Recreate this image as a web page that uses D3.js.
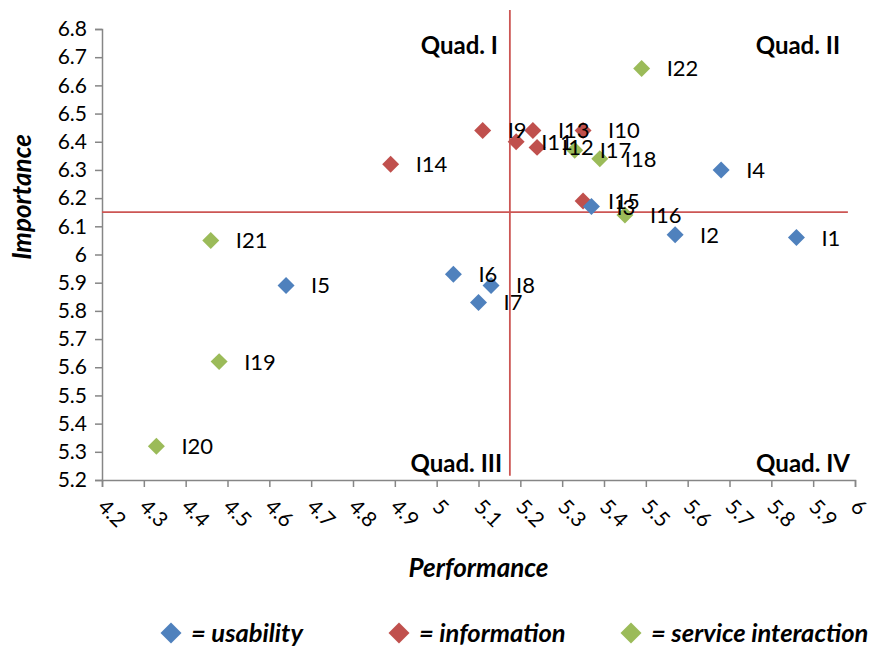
<!DOCTYPE html>
<html>

<head>
    <meta charset="utf-8">
    <style type="text/css">
        body {
            margin: 0;
            background: white;
        }

        svg text {
            font-family: Lato, "Open Sans", sans-serif;
            fill: #000;
        }
    </style>
    <title>Importance-performance chart</title>
</head>

<body>
    <div id="cont"></div>
    <script src="https://cdn.jsdelivr.net/npm/d3@7"></script>
    <script>

        // items: performance (x), importance (y)
        var usability = [
            { id: "I1", p: 5.86, i: 6.06 },
            { id: "I2", p: 5.57, i: 6.07 },
            { id: "I3", p: 5.37, i: 6.17 },
            { id: "I4", p: 5.68, i: 6.30 },
            { id: "I5", p: 4.64, i: 5.89 },
            { id: "I6", p: 5.04, i: 5.93 },
            { id: "I7", p: 5.10, i: 5.83 },
            { id: "I8", p: 5.13, i: 5.89 }
        ];

        var information = [
            { id: "I9", p: 5.11, i: 6.44 },
            { id: "I10", p: 5.35, i: 6.44 },
            { id: "I11", p: 5.19, i: 6.40 },
            { id: "I12", p: 5.24, i: 6.38 },
            { id: "I13", p: 5.23, i: 6.44 },
            { id: "I14", p: 4.89, i: 6.32 },
            { id: "I15", p: 5.35, i: 6.19 }
        ];

        var service = [
            { id: "I16", p: 5.45, i: 6.14 },
            { id: "I17", p: 5.33, i: 6.37 },
            { id: "I18", p: 5.39, i: 6.34 },
            { id: "I19", p: 4.48, i: 5.62 },
            { id: "I20", p: 4.33, i: 5.32 },
            { id: "I21", p: 4.46, i: 6.05 },
            { id: "I22", p: 5.49, i: 6.66 }
        ];

        var xTicks = d3.range(42, 61).map(function (d) { return d / 10; });
        var yTicks = d3.range(52, 69).map(function (d) { return d / 10; });

        // quadrant split lines (performance / importance means)
        var splitPerf = 5.175;
        var splitImp = 6.15;
        var splitPerfSpan = [5.215, 6.867];
        var splitImpSpan = [4.2, 5.983];

        var quadNames = ["Quad. I", "Quad. II", "Quad. III", "Quad. IV"];
        var legendNames = ["= usability", "= information", "= service interaction"];

        var colors = {
            usability: "#4F81BD",
            information: "#C0504D",
            service: "#9BBB59"
        };

        var width = 870,
            height = 648;

        var svg = d3.select("#cont")
            .append("svg")
            .attr("width", width)
            .attr("height", height);

        var x = d3.scaleLinear().domain([4.2, 6]).range([102, 855]);
        var y = d3.scaleLinear().domain([5.2, 6.8]).range([480, 29]);

        //y axis
        var yAxis = svg.append("g")
            .attr("transform", "translate(" + x(4.2) + ",0)")
            .call(d3.axisLeft(y).tickValues(yTicks).tickSize(7).tickPadding(8)
                .tickFormat(d3.format("")));
        yAxis.selectAll("text").style("font-size", "21px");

        //x axis
        var xAxis = svg.append("g")
            .attr("transform", "translate(0," + y(5.2) + ")")
            .call(d3.axisBottom(x).tickValues(xTicks).tickSize(7)
                .tickFormat(d3.format("")));
        xAxis.selectAll("text")
            .style("font-size", "21px")
            .attr("text-anchor", "start")
            .attr("dy", null)
            .attr("y", 0)
            .attr("transform", "translate(-6,28) rotate(45)");

        svg.selectAll(".domain, .tick line")
            .attr("stroke", "#868686")
            .attr("stroke-width", 1.5);

        //quadrant lines
        svg.append("line")
            .attr("x1", x(splitPerf)).attr("x2", x(splitPerf))
            .attr("y1", y(splitPerfSpan[0])).attr("y2", y(splitPerfSpan[1]))
            .attr("stroke", "#CC5654").attr("stroke-width", 1.8);
        svg.append("line")
            .attr("x1", x(splitImpSpan[0])).attr("x2", x(splitImpSpan[1]))
            .attr("y1", y(splitImp)).attr("y2", y(splitImp))
            .attr("stroke", "#CC5654").attr("stroke-width", 1.8);

        //quadrant names
        var quadPos = [
            { x: 498, y: 54 },
            { x: 840, y: 54 },
            { x: 502, y: 472 },
            { x: 850, y: 472 }
        ];
        svg.selectAll(".quad")
            .data(quadNames)
            .enter()
            .append("text")
            .attr("class", "quad")
            .attr("x", function (d, k) { return quadPos[k].x; })
            .attr("y", function (d, k) { return quadPos[k].y; })
            .attr("text-anchor", "end")
            .style("font-size", "24px")
            .style("font-weight", "bold")
            .text(function (d) { return d; });

        var diamond = d3.symbol().type(d3.symbolSquare).size(144);

        var series = [
            { data: information, color: colors.information },
            { data: usability, color: colors.usability },
            { data: service, color: colors.service }
        ];

        series.forEach(function (s) {
            var g = svg.append("g");
            g.selectAll("path")
                .data(s.data)
                .enter()
                .append("path")
                .attr("d", diamond)
                .attr("transform", function (d) {
                    return "translate(" + x(d.p) + "," + y(d.i) + ") rotate(45)";
                })
                .style("fill", s.color);
        });

        series.forEach(function (s) {
            svg.append("g").selectAll("text")
                .data(s.data)
                .enter()
                .append("text")
                .attr("x", function (d) { return x(d.p) + 25; })
                .attr("y", function (d) { return y(d.i); })
                .attr("dy", "0.36em")
                .style("font-size", "22px")
                .text(function (d) { return d.id; });
        });

        //axis titles
        svg.append("text")
            .attr("x", (x(4.2) + x(6)) / 2)
            .attr("y", 577)
            .attr("text-anchor", "middle")
            .style("font-size", "26px")
            .style("font-weight", "bold")
            .style("font-style", "italic")
            .text("Performance");

        svg.append("text")
            .attr("transform", "translate(31,197) rotate(-90)")
            .attr("text-anchor", "middle")
            .style("font-size", "26px")
            .style("font-weight", "bold")
            .style("font-style", "italic")
            .text("Importance");

        //legend
        var legendX = [171, 399, 631];
        var legendColors = [colors.usability, colors.information, colors.service];
        var legend = svg.selectAll(".legend")
            .data(legendNames)
            .enter()
            .append("g")
            .attr("class", "legend")
            .attr("transform", function (d, k) { return "translate(" + legendX[k] + ",633)"; });

        legend.append("path")
            .attr("d", d3.symbol().type(d3.symbolSquare).size(220))
            .attr("transform", "rotate(45)")
            .style("fill", function (d, k) { return legendColors[k]; });

        legend.append("text")
            .attr("x", 20)
            .attr("dy", "0.36em")
            .style("font-size", "25.5px")
            .style("font-weight", "bold")
            .style("font-style", "italic")
            .text(function (d) { return d; });

    </script>
</body>

</html>
